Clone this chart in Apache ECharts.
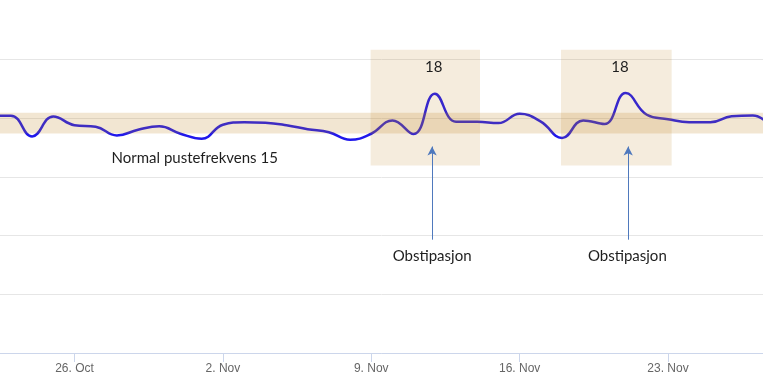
<!DOCTYPE html>
<html>
<head>
<meta charset="utf-8">
<script src="https://cdn.jsdelivr.net/npm/echarts@6/dist/echarts.min.js"></script>
<style>
html,body{margin:0;padding:0;background:#fff;}
#c{width:763px;height:382px;}
</style>
</head>
<body>
<div id="c"></div>
<script>
// ---- data ----
const refDate = '2015-10-26';
const dates = ['2015-10-22','2015-10-23','2015-10-24','2015-10-25','2015-10-26','2015-10-27','2015-10-28','2015-10-29','2015-10-30','2015-10-31',
  '2015-11-01','2015-11-02','2015-11-03','2015-11-04','2015-11-05','2015-11-06','2015-11-07','2015-11-08','2015-11-09','2015-11-10',
  '2015-11-11','2015-11-12','2015-11-13','2015-11-14','2015-11-15','2015-11-16','2015-11-17','2015-11-18','2015-11-19','2015-11-20',
  '2015-11-21','2015-11-22','2015-11-23','2015-11-24','2015-11-25','2015-11-26','2015-11-27','2015-11-28'];
const values = [20.23,20.23,18.46,20.17,19.42,19.29,18.55,19.03,19.32,18.69,
  18.27,19.46,19.67,19.63,19.42,19.08,18.82,18.18,18.69,19.83,
  18.67,22.10,19.72,19.72,19.60,20.39,19.72,18.33,19.83,19.52,
  22.16,20.31,19.93,19.67,19.66,20.18,20.25,19.03];
const tickDates = ['2015-10-26','2015-11-02','2015-11-09','2015-11-16','2015-11-23'];
const tickLabels = ['26. Oct','2. Nov','9. Nov','16. Nov','23. Nov'];

// annotations (x in days from refDate, y in axis units)
const normalBand = [18.72, 20.48];
const normalText = 'Normal pustefrekvens 15';
const normalTextPos = [5.67, 16.62];
const boxesX = [[13.97, 19.13], [22.95, 28.17]];
const boxY = [15.99, 25.85];
const boxText = ['18', '18'];
const boxTextPos = [[16.95, 24.34], [25.73, 24.34]];
const arrowX = [16.87, 26.12];
const arrowY = [9.66, 17.6];
const noteText = ['Obstipasjon', 'Obstipasjon'];
const noteTextPos = [[16.87, 8.29], [26.08, 8.29]];

const xMin = -3.514, xMax = 32.48;

// ---- build ----
const dayMs = 864e5;
const ref = Date.parse(refDate + 'T00:00:00Z');
const dayOf = s => (Date.parse(s + 'T00:00:00Z') - ref) / dayMs;
const seriesData = dates.map((d, i) => [dayOf(d), values[i]]);
const tickVals = tickDates.map(dayOf);

const beige = 'rgba(190,130,30,';
const areas = [
  [{xAxis: xMin, yAxis: normalBand[0], itemStyle: {color: beige + '0.2)'}}, {xAxis: xMax, yAxis: normalBand[1]}]
].concat(boxesX.map(b => [{xAxis: b[0], yAxis: boxY[0], itemStyle: {color: beige + '0.15)'}}, {xAxis: b[1], yAxis: boxY[1]}]));

const txtStyle = {fontFamily: 'Lato', fontSize: 15, color: '#1e1e1e'};
const points = [{coord: normalTextPos, name: normalText}]
  .concat(boxTextPos.map((p, i) => ({coord: p, name: boxText[i]})))
  .concat(noteTextPos.map((p, i) => ({coord: p, name: noteText[i]})))
  .map(p => Object.assign(p, {label: Object.assign({show: true, position: 'inside', formatter: p.name}, txtStyle)}));

const arrows = arrowX.map(x => [{coord: [x, arrowY[0]]}, {coord: [x, arrowY[1]]}]);

const chart = echarts.init(document.getElementById('c'), null, {renderer: 'canvas'});
chart.setOption({
  animation: false,
  backgroundColor: '#ffffff',
  grid: {left: 0, right: 0, top: 48, bottom: 29, containLabel: false, outerBoundsMode: 'none'},
  xAxis: {
    type: 'value', min: xMin, max: xMax,
    axisLine: {show: true, lineStyle: {color: '#ccd6eb', width: 1}},
    axisTick: {show: true, customValues: tickVals, length: 9, lineStyle: {color: '#ccd6eb'}},
    axisLabel: {
      customValues: tickVals, margin: 10, color: '#666666', fontSize: 12, fontFamily: 'Liberation Sans',
      formatter: v => { const i = tickVals.findIndex(t => Math.abs(t - v) < 1e-6); return i >= 0 ? tickLabels[i] : ''; }
    },
    splitLine: {show: false}
  },
  yAxis: {
    type: 'value', min: 0, max: 26, interval: 5,
    axisLine: {show: false}, axisTick: {show: false}, axisLabel: {show: false},
    splitLine: {show: true, showMaxLine: false, lineStyle: {color: '#e6e6e6', width: 1}}
  },
  series: [
    {
      type: 'line', data: seriesData, smooth: 0.45, showSymbol: false, z: 2,
      lineStyle: {color: '#2018ec', width: 2.5}, itemStyle: {color: '#2018ec'}
    },
    {
      type: 'line', data: [], z: 5, silent: true,
      markArea: {silent: true, z: 5, data: areas},
      markLine: {
        silent: true, z: 6, symbol: ['none', 'arrow'], symbolSize: [7, 9],
        label: {show: false}, lineStyle: {color: '#4f79bd', width: 1, type: 'solid'},
        data: arrows
      },
      markPoint: {silent: true, z: 7, symbol: 'circle', symbolSize: 1, itemStyle: {color: 'rgba(0,0,0,0)'}, data: points}
    }
  ]
});
</script>
</body>
</html>
